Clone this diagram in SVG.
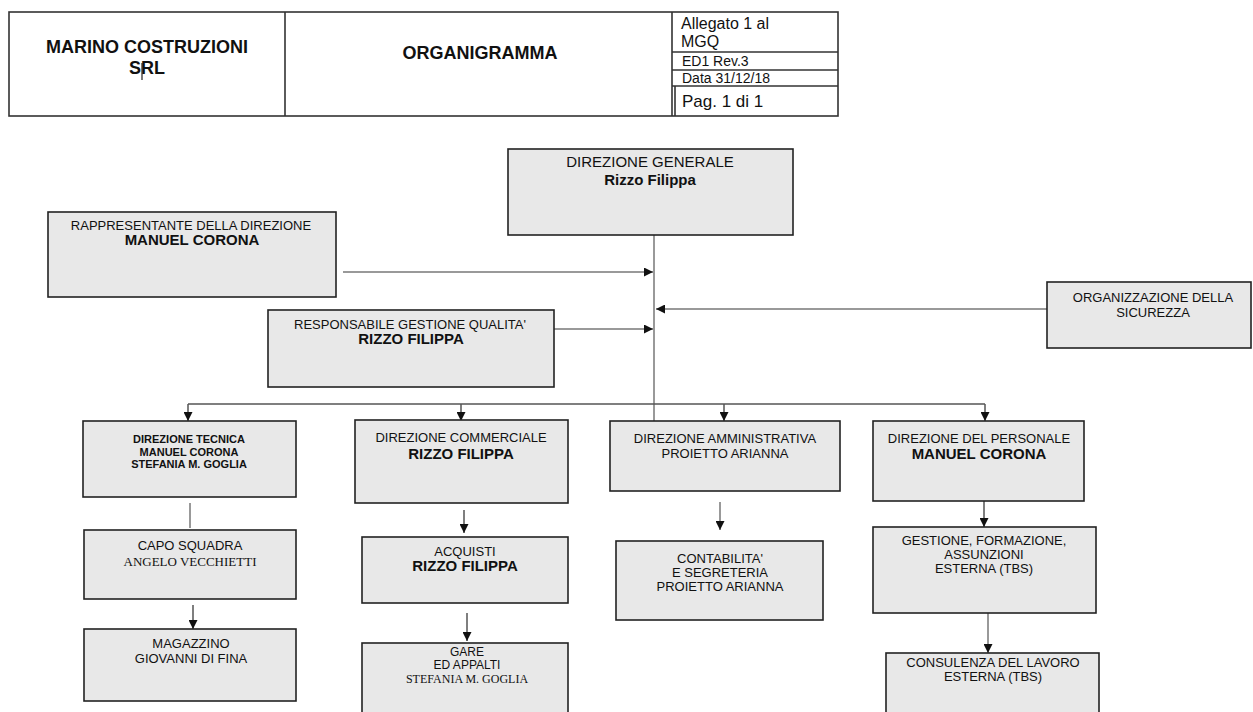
<svg xmlns="http://www.w3.org/2000/svg" width="1253" height="712" viewBox="0 0 1253 712">
<defs>
<marker id="ah" viewBox="0 0 10 10" refX="10" refY="5" markerWidth="9" markerHeight="9" markerUnits="userSpaceOnUse" orient="auto"><path d="M0,0 L10,5 L0,10 z" fill="#111"/></marker>
</defs>
<style>
.box{fill:#e8e8e8;stroke:#222;stroke-width:1.6}
.hd{fill:#fff;stroke:#333;stroke-width:1.6}
text{font-family:"Liberation Sans",Arial,sans-serif;fill:#111;text-anchor:middle}
.r{font-size:13px}
.b{font-size:15px;font-weight:bold}
.s{font-family:"Liberation Serif","Times New Roman",serif;font-size:13px}
.t{font-size:11px;font-weight:bold}
.hl{text-anchor:start}
.c{fill:none;stroke:#555;stroke-width:1.5}
.g{fill:none;stroke:#999;stroke-width:2}
</style>
<g id="header">
<rect class="hd" x="9" y="12" width="829" height="104"/>
<line class="hd" x1="285" y1="12" x2="285" y2="116"/>
<line class="hd" x1="672" y1="12" x2="672" y2="116"/>
<line class="hd" x1="672" y1="52" x2="838" y2="52"/>
<line class="hd" x1="672" y1="70" x2="838" y2="70"/>
<line class="hd" x1="672" y1="86" x2="838" y2="86"/>
<line class="hd" x1="675" y1="86" x2="675" y2="116"/>
<text x="147" y="53" style="font-size:18px;font-weight:bold">MARINO COSTRUZIONI</text>
<text x="147" y="74" style="font-size:18px;font-weight:bold">SRL</text>
<line x1="142" y1="63" x2="142" y2="80" stroke="#222" stroke-width="1.2"/>
<text x="480" y="59" style="font-size:18px;font-weight:bold">ORGANIGRAMMA</text>
<text class="hl" x="681" y="29" style="font-size:16px">Allegato 1 al</text>
<text class="hl" x="681" y="47" style="font-size:16px">MGQ</text>
<text class="hl" x="682" y="66" style="font-size:14px">ED1  Rev.3</text>
<text class="hl" x="682" y="83" style="font-size:14px">Data 31/12/18</text>
<text class="hl" x="682" y="107" style="font-size:17px">Pag. 1 di 1</text>
</g>
<g id="connectors">
<path class="g" d="M654,235 V421"/>
<path class="c" d="M188,404 H985"/>
<path class="c" d="M188,404 V421" marker-end="url(#ah)"/>
<path class="c" d="M461,404 V421" marker-end="url(#ah)"/>
<path class="c" d="M724,404 V421" marker-end="url(#ah)"/>
<path class="c" d="M985,404 V421" marker-end="url(#ah)"/>
<path class="g" d="M343,272 H653" marker-end="url(#ah)"/>
<path class="g" d="M554,329 H653" marker-end="url(#ah)"/>
<path class="g" d="M1047,309 H656" marker-end="url(#ah)"/>
<path class="g" d="M190,503 V528"/>
<path class="c" d="M193,605 V629" marker-end="url(#ah)"/>
<path class="c" d="M464,510 V533" marker-end="url(#ah)"/>
<path class="c" d="M467,613 V641" marker-end="url(#ah)"/>
<path class="g" d="M720,502 V530" marker-end="url(#ah)"/>
<path class="c" d="M984,501 V527" marker-end="url(#ah)"/>
<path class="g" d="M988,613 V653" marker-end="url(#ah)"/>
</g>
<g id="dg">
<rect class="box" x="508" y="149" width="285" height="86"/>
<text x="650" y="167" style="font-size:15px">DIREZIONE GENERALE</text>
<text x="650" y="185" class="b">Rizzo Filippa</text>
</g>
<g id="rappresentante">
<rect class="box" x="48" y="212" width="288" height="85"/>
<text x="191" y="230" class="r">RAPPRESENTANTE DELLA DIREZIONE</text>
<text x="192" y="245" class="b">MANUEL CORONA</text>
</g>
<g id="rgq">
<rect class="box" x="268" y="310" width="286" height="77"/>
<text x="410" y="329" class="r">RESPONSABILE GESTIONE QUALITA'</text>
<text x="411" y="344" class="b">RIZZO FILIPPA</text>
</g>
<g id="sicurezza">
<rect class="box" x="1047" y="282" width="204" height="66"/>
<text x="1153" y="302" class="r">ORGANIZZAZIONE DELLA</text>
<text x="1153" y="317" class="r">SICUREZZA</text>
</g>
<g id="tecnica">
<rect class="box" x="83" y="421" width="213" height="76"/>
<text x="189" y="443" class="t">DIREZIONE TECNICA</text>
<text x="189" y="456" class="t">MANUEL CORONA</text>
<text x="189" y="468" class="t">STEFANIA M. GOGLIA</text>
</g>
<g id="commerciale">
<rect class="box" x="355" y="420" width="213" height="83"/>
<text x="461" y="442" class="r">DIREZIONE COMMERCIALE</text>
<text x="461" y="459" class="b">RIZZO FILIPPA</text>
</g>
<g id="amministrativa">
<rect class="box" x="610" y="421" width="230" height="70"/>
<text x="725" y="443" class="r">DIREZIONE AMMINISTRATIVA</text>
<text x="725" y="458" class="r">PROIETTO ARIANNA</text>
</g>
<g id="personale">
<rect class="box" x="873" y="421" width="211" height="80"/>
<text x="979" y="443" class="r">DIREZIONE DEL PERSONALE</text>
<text x="979" y="459" class="b">MANUEL CORONA</text>
</g>
<g id="caposquadra">
<rect class="box" x="84" y="530" width="212" height="69"/>
<text x="190" y="550" class="r">CAPO SQUADRA</text>
<text x="190" y="566" class="s">ANGELO VECCHIETTI</text>
</g>
<g id="magazzino">
<rect class="box" x="84" y="629" width="212" height="72"/>
<text x="191" y="648" class="r">MAGAZZINO</text>
<text x="191" y="663" class="r">GIOVANNI DI FINA</text>
</g>
<g id="acquisti">
<rect class="box" x="362" y="537" width="206" height="66"/>
<text x="465" y="556" class="r">ACQUISTI</text>
<text x="465" y="571" class="b">RIZZO FILIPPA</text>
</g>
<g id="gare">
<rect class="box" x="362" y="643" width="206" height="75"/>
<text x="467" y="656" style="font-size:12px">GARE</text>
<text x="467" y="669" style="font-size:12px">ED APPALTI</text>
<text x="467" y="683" class="s" style="font-size:12px">STEFANIA M. GOGLIA</text>
</g>
<g id="contabilita">
<rect class="box" x="616" y="541" width="207" height="79"/>
<text x="720" y="563" class="r">CONTABILITA'</text>
<text x="720" y="577" class="r">E SEGRETERIA</text>
<text x="720" y="591" class="r">PROIETTO ARIANNA</text>
</g>
<g id="gestione">
<rect class="box" x="873" y="527" width="223" height="86"/>
<text x="984" y="545" class="r">GESTIONE, FORMAZIONE,</text>
<text x="984" y="559" class="r">ASSUNZIONI</text>
<text x="984" y="573" class="r">ESTERNA (TBS)</text>
</g>
<g id="consulenza">
<rect class="box" x="886" y="653" width="213" height="65"/>
<text x="993" y="667" class="r">CONSULENZA DEL LAVORO</text>
<text x="993" y="681" class="r">ESTERNA (TBS)</text>
</g>
</svg>
